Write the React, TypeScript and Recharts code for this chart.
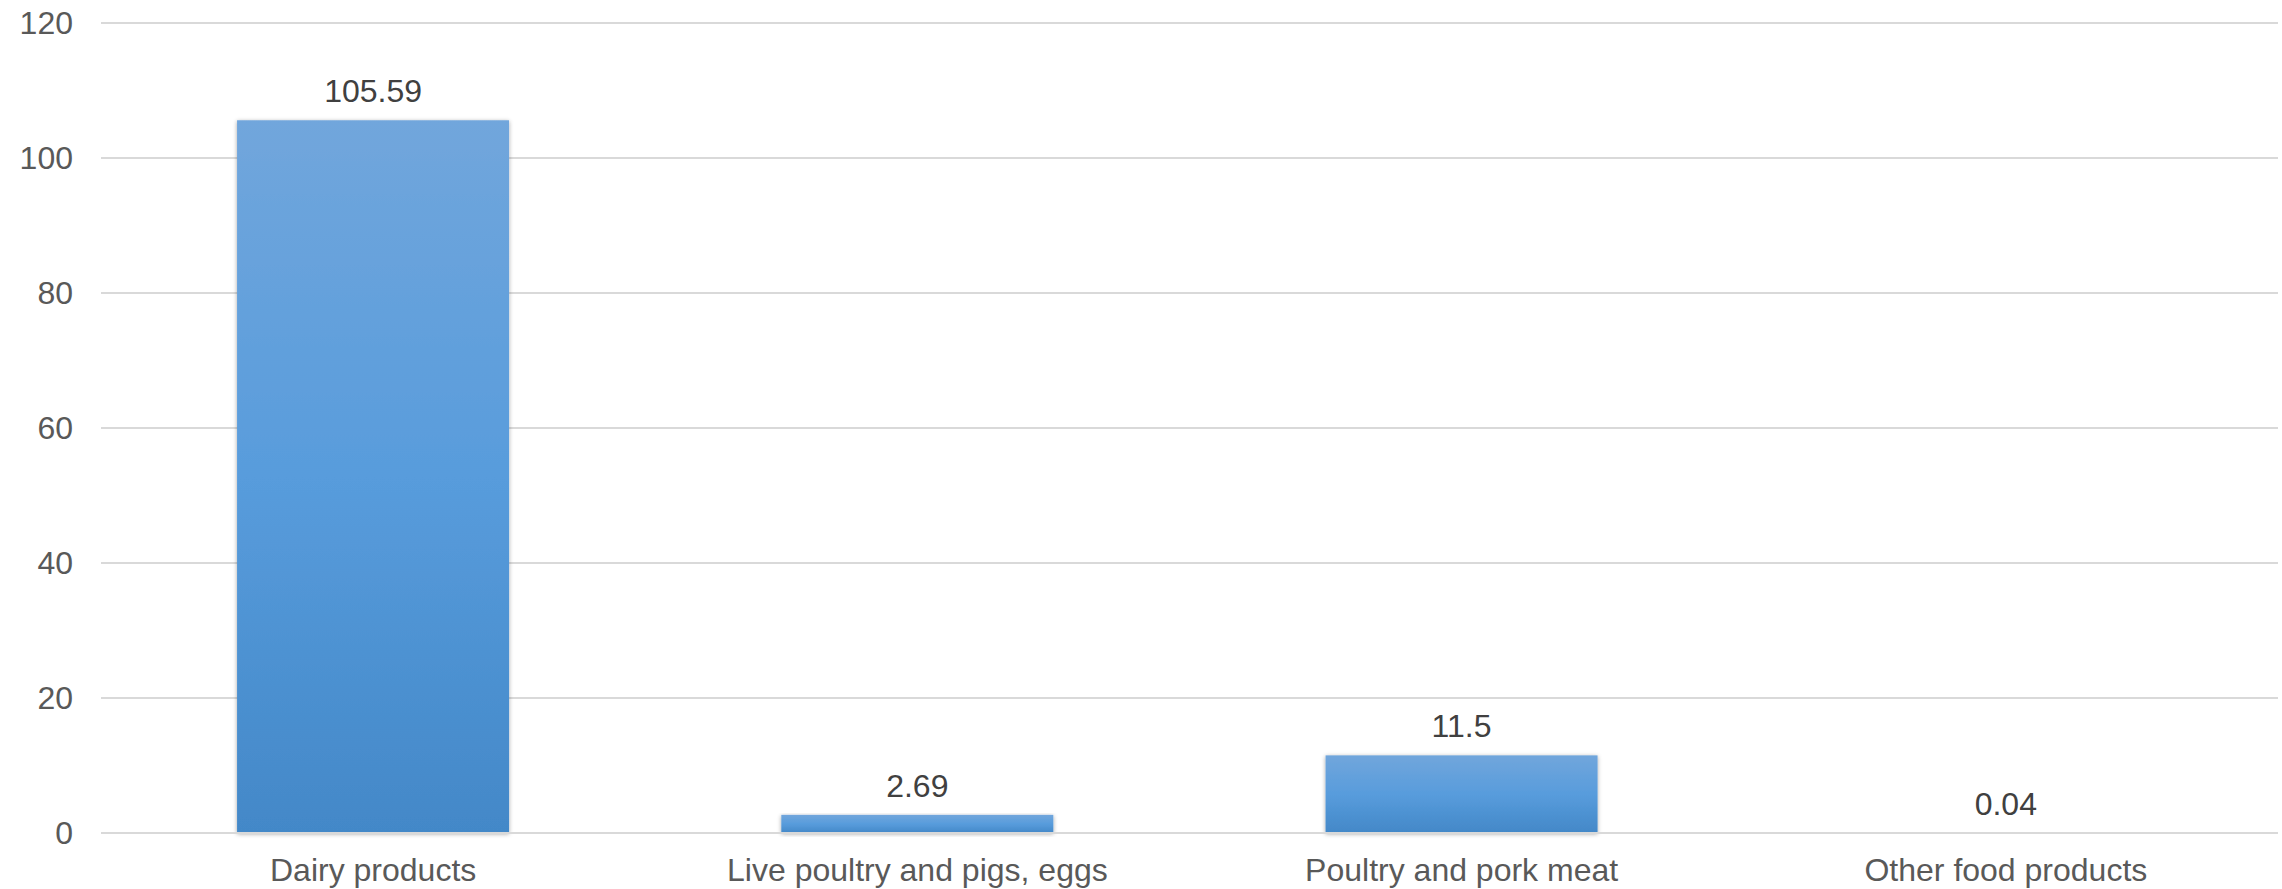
import { BarChart, Bar, XAxis, YAxis, CartesianGrid, LabelList } from "recharts";

const categories = [
  "Dairy products",
  "Live poultry and pigs, eggs",
  "Poultry and pork meat",
  "Other food products",
];
const values = [105.59, 2.69, 11.5, 0.04];
const yTicks = [0, 20, 40, 60, 80, 100, 120];

const data = categories.map((name, i) => ({ name, value: values[i] }));

const FONT = "'Liberation Sans', Arial, sans-serif";

// Rectangle with the soft Office-style shadow and per-bar vertical gradient
const ShadedBar = (props: any) => {
  const { x, y, width, height } = props;
  if (width == null || height == null) return null;
  return (
    <rect
      x={x}
      y={y}
      width={width}
      height={Math.max(height, 0)}
      fill="url(#barFill)"
      filter="url(#barShadow)"
    />
  );
};

export default function App() {
  return (
    <div style={{ position: "absolute", left: 0, top: 0, background: "#fff" }}>
      <BarChart
        width={2282}
        height={889}
        data={data}
        margin={{ top: 23, right: 4, bottom: 0, left: 0 }}
        barCategoryGap="25%"
      >
        <defs>
          <linearGradient id="barFill" x1="0" y1="0" x2="0" y2="1">
            <stop offset="0%" stopColor="#71a6dc" />
            <stop offset="50%" stopColor="#589cdc" />
            <stop offset="100%" stopColor="#4388c8" />
          </linearGradient>
          <filter id="barShadow" x="-10%" y="-10%" width="120%" height="130%">
            <feDropShadow dx="0" dy="1" stdDeviation="2" floodColor="#000" floodOpacity="0.35" />
          </filter>
        </defs>
        <CartesianGrid vertical={false} stroke="#d9d9d9" strokeWidth={2} />
        <XAxis
          dataKey="name"
          height={56}
          tickSize={0}
          tickMargin={25}
          axisLine={{ stroke: "#d9d9d9", strokeWidth: 2 }}
          tick={{ fill: "#595959", fontSize: 32, fontFamily: FONT }}
          interval={0}
        />
        <YAxis
          width={101}
          domain={[0, 120]}
          ticks={yTicks}
          tickSize={0}
          tickMargin={28}
          axisLine={false}
          tick={{ fill: "#595959", fontSize: 32, fontFamily: FONT }}
        />
        <Bar dataKey="value" shape={ShadedBar} isAnimationActive={false}>
          <LabelList
            dataKey="value"
            position="top"
            offset={18}
            fill="#404040"
            fontSize={32}
            fontFamily={FONT}
          />
        </Bar>
      </BarChart>
    </div>
  );
}
